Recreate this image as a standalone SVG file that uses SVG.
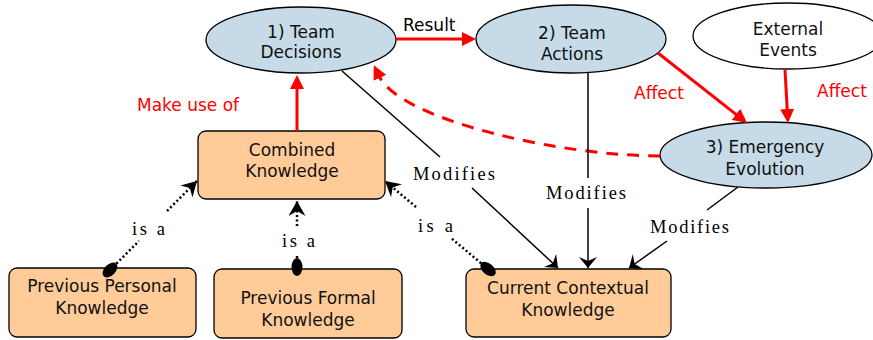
<svg xmlns="http://www.w3.org/2000/svg" width="873" height="340" viewBox="0 0 873 340">
<defs>
<style>
.ell{fill:#c6dae8;stroke:#000;stroke-width:1.3}
.ext{fill:#fff;stroke:#000;stroke-width:1.3}
.box{fill:#ffcc99;stroke:#000;stroke-width:1.3}
.t{font-family:"DejaVu Sans",Verdana,sans-serif;font-size:17px;fill:#111;text-anchor:middle}
.rl{font-family:"DejaVu Sans",Verdana,sans-serif;font-size:17px;fill:#ff0000}
.bl{font-family:"DejaVu Sans",Verdana,sans-serif;font-size:17px;fill:#000}
.s{font-family:"Liberation Serif","Times New Roman",serif;font-size:18.5px;fill:#000}
.red{stroke:#ff0000;stroke-width:3;fill:none}
.dash{stroke:#ff0000;stroke-width:3;fill:none;stroke-dasharray:12 9}
.blk{stroke:#000;stroke-width:1.5;fill:none}
.dot{stroke:#000;stroke-width:2.5;fill:none;stroke-dasharray:2 2.5}
</style>
<marker id="ra" viewBox="0 0 14 14" refX="2" refY="7" markerWidth="14" markerHeight="14" orient="auto" markerUnits="userSpaceOnUse"><path d="M0,0 L14,7 L0,14 Z" fill="#ff0000"/></marker>
<marker id="ba" viewBox="0 0 11 18" refX="11" refY="9" markerWidth="11" markerHeight="18" orient="auto" markerUnits="userSpaceOnUse"><path d="M0,0 L11,9 L0,18 L4,9 Z" fill="#000"/></marker>
<marker id="va" viewBox="0 0 15 17" refX="15" refY="8.5" markerWidth="15" markerHeight="17" orient="auto" markerUnits="userSpaceOnUse"><path d="M0,0 L15,8.5 L0,17 L5,8.5 Z" fill="#000"/></marker>
<marker id="ov" viewBox="-10 -6 20 12" refX="0" refY="0" markerWidth="20" markerHeight="12" orient="auto" markerUnits="userSpaceOnUse"><ellipse cx="0" cy="0" rx="9" ry="5.5" fill="#000"/></marker>
</defs>
<rect width="873" height="340" fill="#fff"/>
<g id="team-decisions">
<ellipse class="ell" cx="301" cy="40" rx="95" ry="33"/>
<text class="t" x="301" y="38">1) Team</text>
<text class="t" x="301" y="58">Decisions</text>
</g>
<g id="team-actions">
<ellipse class="ell" cx="571" cy="39" rx="95" ry="34"/>
<text class="t" x="572" y="39">2) Team</text>
<text class="t" x="572" y="60">Actions</text>
</g>
<g id="external-events">
<ellipse class="ext" cx="788" cy="36" rx="95" ry="33"/>
<text class="t" x="788" y="35">External</text>
<text class="t" x="788" y="56">Events</text>
</g>
<g id="emergency-evolution">
<ellipse class="ell" cx="766" cy="155" rx="106" ry="33"/>
<text class="t" x="765" y="153">3) Emergency</text>
<text class="t" x="765" y="175">Evolution</text>
</g>
<g id="combined-knowledge">
<rect class="box" x="198" y="131" width="187" height="68" rx="8"/>
<text class="t" x="292" y="156">Combined</text>
<text class="t" x="292" y="177">Knowledge</text>
</g>
<g id="previous-personal-knowledge">
<rect class="box" x="9" y="268" width="187" height="69" rx="8"/>
<text class="t" x="102" y="292">Previous Personal</text>
<text class="t" x="102" y="314">Knowledge</text>
</g>
<g id="previous-formal-knowledge">
<rect class="box" x="214" y="269" width="188" height="69" rx="8"/>
<text class="t" x="308" y="304">Previous Formal</text>
<text class="t" x="308" y="326">Knowledge</text>
</g>
<g id="current-contextual-knowledge">
<rect class="box" x="466" y="269" width="205" height="68" rx="8"/>
<text class="t" x="568" y="294">Current Contextual</text>
<text class="t" x="568" y="316">Knowledge</text>
</g>
<g id="connectors">
<path class="red" d="M396,39 L464,39" marker-end="url(#ra)"/>
<path class="red" d="M297,131 L297,87" marker-end="url(#ra)"/>
<path class="red" d="M658,53 L737.6,115.6" marker-end="url(#ra)"/>
<path class="red" d="M785,70 L787.3,111" marker-end="url(#ra)"/>
<path class="dash" d="M660,156 C560,156 400,120 379,76" marker-end="url(#ra)"/>
<path class="blk" d="M342,71 L440,157"/>
<path class="blk" d="M472,188 L558,268" marker-end="url(#ba)"/>
<path class="blk" d="M588,73 L588,178"/>
<path class="blk" d="M588,208 L588,268" marker-end="url(#ba)"/>
<path class="blk" d="M738,187 L707,210"/>
<path class="blk" d="M667,241 L629,268" marker-end="url(#ba)"/>
<path class="dot" d="M110,270 L139,241" marker-start="url(#ov)"/>
<path class="dot" d="M167,211 L197,181" marker-end="url(#va)"/>
<path class="dot" d="M297,267 L297,254" marker-start="url(#ov)"/>
<path class="dot" d="M297,226 L297,201" marker-end="url(#va)"/>
<path class="dot" d="M488,269 L451,238" marker-start="url(#ov)"/>
<path class="dot" d="M416,207 L385,181" marker-end="url(#va)"/>
<text class="bl" x="403" y="31">Result</text>
<text class="rl" x="137" y="111">Make use of</text>
<text class="rl" x="634" y="99">Affect</text>
<text class="rl" x="817" y="97">Affect</text>
<text class="s" x="413" y="180" textLength="82" lengthAdjust="spacing">Modifies</text>
<text class="s" x="546" y="199" textLength="80" lengthAdjust="spacing">Modifies</text>
<text class="s" x="650" y="233" textLength="79" lengthAdjust="spacing">Modifies</text>
<text class="s" x="132" y="235" textLength="33" lengthAdjust="spacing">is a</text>
<text class="s" x="282" y="247" textLength="33" lengthAdjust="spacing">is a</text>
<text class="s" x="418" y="232" textLength="35" lengthAdjust="spacing">is a</text>
</g>
</svg>
